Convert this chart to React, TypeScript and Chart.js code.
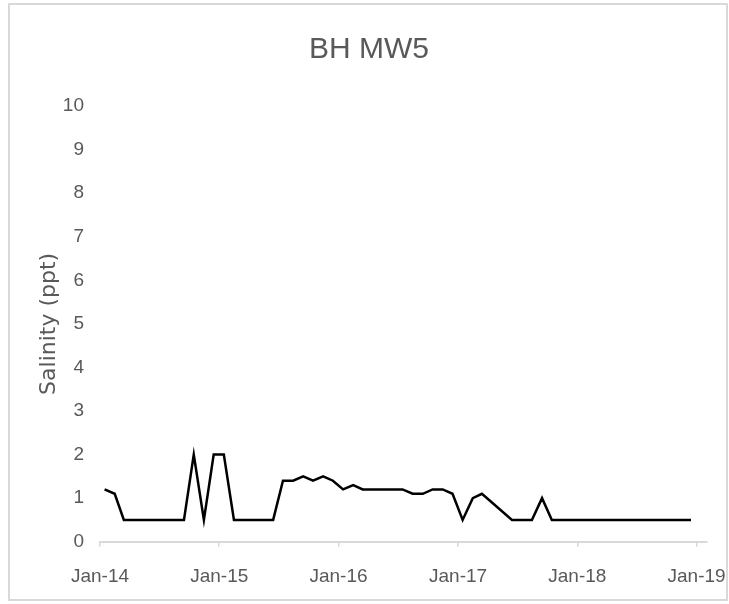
import React, { useEffect, useRef } from "react";
import { Chart, registerables } from "chart.js";

Chart.register(...registerables);

// Sample months (mid-month readings) and salinity values (ppt)
const sampleMonths = [
  "2014-01", "2014-02", "2014-03", "2014-04", "2014-05", "2014-06", "2014-07", "2014-08", "2014-09", "2014-10", "2014-11", "2014-12",
  "2015-01", "2015-02", "2015-03", "2015-04", "2015-05", "2015-06", "2015-07", "2015-08", "2015-09", "2015-10", "2015-11", "2015-12",
  "2016-01", "2016-02", "2016-03", "2016-04", "2016-05", "2016-06", "2016-07", "2016-08", "2016-09", "2016-10", "2016-11", "2016-12",
  "2017-01", "2017-02", "2017-03", "2017-06", "2017-07", "2017-08", "2017-09", "2017-10", "2017-11", "2017-12",
  "2018-01", "2018-02", "2018-03", "2018-04", "2018-05", "2018-06", "2018-07", "2018-08", "2018-09", "2018-10", "2018-11", "2018-12",
];
const salinity = [
  1.2, 1.1, 0.5, 0.5, 0.5, 0.5, 0.5, 0.5, 0.5, 2.0, 0.5, 2.0,
  2.0, 0.5, 0.5, 0.5, 0.5, 0.5, 1.4, 1.4, 1.5, 1.4, 1.5, 1.4,
  1.2, 1.3, 1.2, 1.2, 1.2, 1.2, 1.2, 1.1, 1.1, 1.2, 1.2, 1.1,
  0.5, 1.0, 1.1, 0.5, 0.5, 0.5, 1.0, 0.5, 0.5, 0.5,
  0.5, 0.5, 0.5, 0.5, 0.5, 0.5, 0.5, 0.5, 0.5, 0.5, 0.5, 0.5,
];
const tickDates = ["2014-01-01", "2015-01-01", "2016-01-01", "2017-01-01", "2018-01-01", "2019-01-01"];
const tickLabels = ["Jan-14", "Jan-15", "Jan-16", "Jan-17", "Jan-18", "Jan-19"];
const axisStart = "2014-01-01";
const axisEnd = "2019-02-01";
const yTicks = [0, 1, 2, 3, 4, 5, 6, 7, 8, 9, 10];

const chartTitle = "BH MW5";
const yTitle = "Salinity (ppt)";

function dateToTime(d: string): number {
  const [y, m, day] = d.split("-").map(Number);
  return Date.UTC(y, m - 1, day);
}
function monthToTime(ym: string): number {
  return dateToTime(ym + "-15");
}

const GRAY = "#595959";
const AXIS = "#d9d9d9";
const NARROW = "'Liberation Sans Narrow', 'Liberation Sans', sans-serif";

export default function App() {
  const canvasRef = useRef<HTMLCanvasElement | null>(null);

  useEffect(() => {
    if (!canvasRef.current) return;
    const points = sampleMonths.map((m, i) => ({ x: monthToTime(m), y: salinity[i] }));
    const chart = new Chart(canvasRef.current, {
      type: "line",
      data: {
        datasets: [
          {
            label: chartTitle,
            data: points,
            borderColor: "#000000",
            borderWidth: 2.5,
            pointRadius: 0,
            tension: 0,
            fill: false,
          },
        ],
      },
      options: {
        responsive: false,
        animation: false,
        layout: { padding: { left: 9, right: 0, top: 0, bottom: 8.5 } },
        plugins: {
          legend: { display: false },
          tooltip: { enabled: false },
          title: {
            display: true,
            text: chartTitle,
            color: GRAY,
            font: { family: NARROW, size: 30, weight: "normal" },
            padding: { top: 32, bottom: 38 },
          },
        },
        scales: {
          x: {
            type: "linear",
            min: dateToTime(axisStart),
            max: dateToTime(axisEnd),
            afterBuildTicks: (scale: any) => {
              scale.ticks = tickDates.map((d) => ({ value: dateToTime(d) }));
            },
            afterFit: (scale: any) => {
              scale.paddingRight = 22.3;
              scale.paddingLeft = 0;
              scale.height = 53.8;
            },
            ticks: {
              autoSkip: false,
              maxRotation: 0,
              padding: 19,
              color: GRAY,
              font: { family: NARROW, size: 19 },
              callback: (_v: any, i: number) => tickLabels[i],
            },
            grid: {
              display: true,
              drawOnChartArea: false,
              drawTicks: true,
              tickLength: 5,
              color: AXIS,
              lineWidth: 1.5,
            },
            border: { display: true, color: AXIS, width: 2 },
          },
          y: {
            type: "linear",
            min: 0,
            max: 10,
            afterBuildTicks: (scale: any) => {
              scale.ticks = yTicks.map((v) => ({ value: v }));
            },
            afterFit: (scale: any) => {
              scale.width = 91;
            },
            ticks: {
              padding: 16,
              color: GRAY,
              font: { family: NARROW, size: 19 },
              callback: (v: any) => String(v),
            },
            grid: { display: false, drawTicks: false },
            border: { display: false },
            title: {
              display: true,
              text: yTitle,
              color: GRAY,
              font: { family: "'DejaVu Sans', sans-serif", size: 22, weight: "normal" },
              padding: { top: 27, bottom: 0 },
            },
          },
        },
      },
    } as any);
    return () => chart.destroy();
  }, []);

  return (
    <div>
      <div
        style={{
          position: "absolute",
          left: 8,
          top: 3,
          width: 716,
          height: 594,
          border: "2px solid #d9d9d9",
          background: "#ffffff",
        }}
      />
      <canvas
        ref={canvasRef}
        width={729}
        height={604}
        style={{ position: "absolute", left: 0, top: 0, width: 729, height: 604 }}
      />
    </div>
  );
}
